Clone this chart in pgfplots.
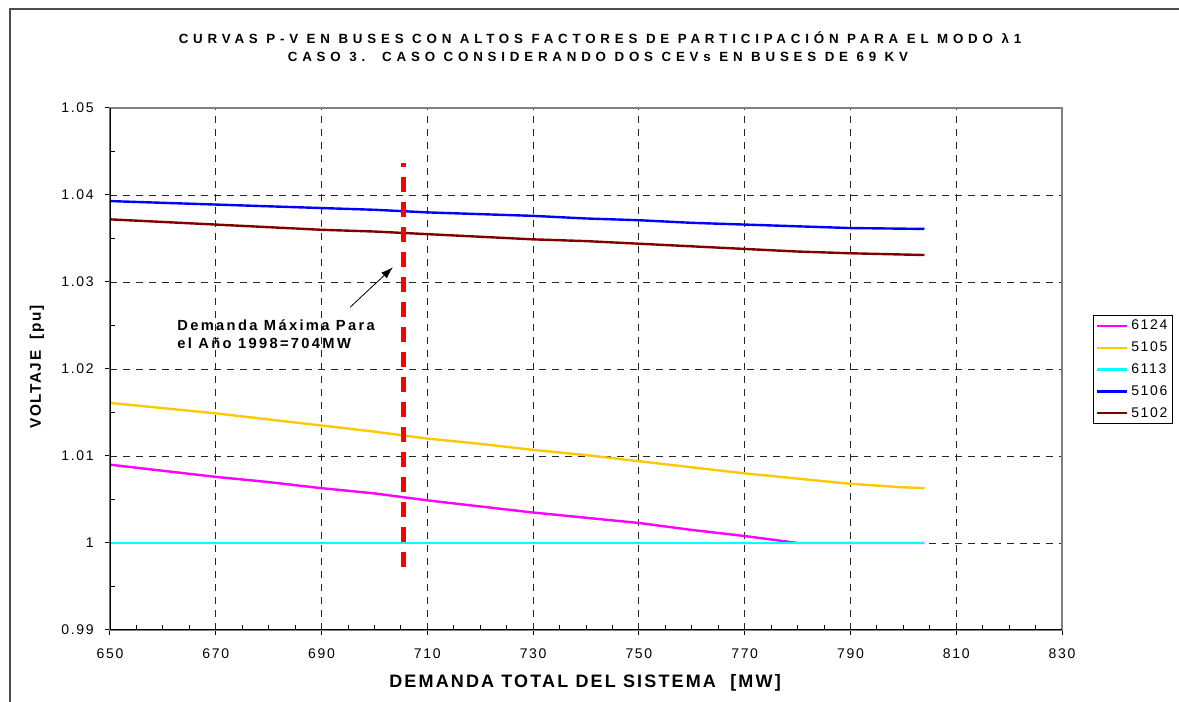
\documentclass[border=0pt]{standalone}
\usepackage{fontspec}
\setmainfont{Liberation Sans}
\newfontfamily\lsfont[LetterSpace=12]{Liberation Sans}
\newfontfamily\titlefont[LetterSpace=36]{Liberation Sans}
\newfontfamily\labfont[LetterSpace=12]{Liberation Sans}
\newfontfamily\ylabfont[LetterSpace=10]{Liberation Sans}
\newfontfamily\annfont[LetterSpace=16]{Liberation Sans}
\usepackage{pgfplots}
\pgfplotsset{compat=1.18}
\usetikzlibrary{arrows.meta}
\definecolor{cMag}{HTML}{FF00FF}
\definecolor{cYel}{HTML}{FFC800}
\definecolor{cCya}{HTML}{00FFFF}
\definecolor{cBlu}{HTML}{0000FF}
\definecolor{cBro}{HTML}{800000}
\begin{document}
\begin{tikzpicture}[x=0.75pt,y=0.75pt]
\path[use as bounding box] (0,0) rectangle (1179,702);
\draw[gray!60!black, line width=1.1pt] (10,0) -- (10,693) -- (1179,693);
\node[font=\titlefont\bfseries\fontsize{10}{12}\selectfont] at (600,664) {CURVAS P-V EN BUSES CON ALTOS FACTORES DE PARTICIPACIÓN PARA EL MODO λ1};
\node[font=\titlefont\bfseries\fontsize{10}{12}\selectfont] at (598,645) {CASO 3.\ \ CASO CONSIDERANDO DOS CEVs EN BUSES DE 69 KV};
\begin{axis}[
  at={(82.5pt,54pt)}, anchor=south west, scale only axis,
  width=714pt, height=391.5pt,
  xmin=650, xmax=830, ymin=0.99, ymax=1.05,
  xtick={650,670,...,830},
  ytick={0.99,1.00,1.01,1.02,1.03,1.04,1.05},
  minor x tick num=3, minor y tick num=1,
  tick align=outside, major tick length=3.75pt, minor tick length=-3.5pt,
  tick style={black, line width=0.75pt},
  xtick pos=bottom, ytick pos=left,
  grid=major,
  major grid style={black!85, line width=0.6pt, dash pattern=on 5.25pt off 4.5pt},
  axis line style={gray, line width=1.1pt},
  /pgf/number format/assume math mode=true,
  ticklabel style={font=\lsfont\fontsize{10.5}{12}\selectfont, black},
  xticklabel style={yshift=-7pt},
  yticklabel style={xshift=-5pt},
  xlabel={DEMANDA TOTAL DEL SISTEMA\ \ [MW]},
  ylabel={VOLTAJE\ \ [pu]},
  every axis x label/.style={at={(axis description cs:0.499,-0.1015)}, anchor=center, font=\labfont\bfseries\fontsize{13.5}{15}\selectfont},
  every axis y label/.style={at={(axis description cs:-0.0767,0.5038)}, anchor=center, rotate=90, font=\ylabfont\bfseries\fontsize{11.5}{13}\selectfont},
  legend style={at={(axis description cs:1.0326,0.6034)}, anchor=north west, draw=black, line width=0.75pt,
    font=\lsfont\fontsize{10.5}{12}\selectfont, inner xsep=2pt, inner ysep=1.5pt, row sep=3.5pt, cells={anchor=west}},
  legend image code/.code={\draw[#1] (0pt,0pt) -- (22.5pt,0pt);},
]
\addplot[cMag, line width=1.8pt] coordinates {
(650,1.0090) (660,1.0083) (670,1.0076) (680,1.0070) (690,1.0063) (700,1.0057) (710,1.0049) (720,1.0042) (730,1.0035) (740,1.0029) (750,1.0023) (760,1.0015) (770,1.0008) (780,1.0000) (790,1.0000) (804,1.0000)};
\addlegendentry{6124}
\addplot[cYel, line width=1.8pt] coordinates {
(650,1.0161) (660,1.0155) (670,1.0149) (680,1.0142) (690,1.0135) (700,1.0128) (710,1.0120) (720,1.0114) (730,1.0107) (740,1.0101) (750,1.0094) (760,1.0087) (770,1.0080) (780,1.0074) (790,1.0068) (800,1.0064) (804,1.0063)};
\addlegendentry{5105}
\addplot[cCya, line width=1.8pt] coordinates {(650,1.0000) (804,1.0000)};
\addlegendentry{6113}
\addplot[cBlu, line width=1.8pt] coordinates {
(650,1.0393) (660,1.0391) (670,1.0389) (680,1.0387) (690,1.0385) (700,1.0383) (710,1.0380) (720,1.0378) (730,1.0376) (740,1.0373) (750,1.0371) (760,1.0368) (770,1.0366) (780,1.0364) (790,1.0362) (804,1.0361)};
\addlegendentry{5106}
\addplot[cBro, line width=1.8pt] coordinates {
(650,1.0372) (660,1.0369) (670,1.0366) (680,1.0363) (690,1.0360) (700,1.0358) (710,1.0355) (720,1.0352) (730,1.0349) (740,1.0347) (750,1.0344) (760,1.0341) (770,1.0338) (780,1.0335) (790,1.0333) (804,1.0331)};
\addlegendentry{5102}
\addplot[red, line width=3.75pt, dash pattern=on 11.25pt off 7.5pt, dash phase=8.25pt, forget plot] coordinates {(705.4,1.0437) (705.4,0.9969)};
\draw[black, line width=0.6pt, -{Latex[length=9pt,width=6pt]}] (axis cs:695.4,1.0271) -- (axis cs:703.5,1.0317);
\node[anchor=west, align=left, inner sep=0pt, font=\annfont\bfseries\fontsize{11}{13.5}\selectfont] at (axis cs:662.7,1.0240) {Demanda Máxima Para\\el Año 1998=704MW};
\draw[black, line width=1.1pt] (rel axis cs:0,1) -- (rel axis cs:0,0) -- (rel axis cs:1,0);
\end{axis}
\end{tikzpicture}
\end{document}
